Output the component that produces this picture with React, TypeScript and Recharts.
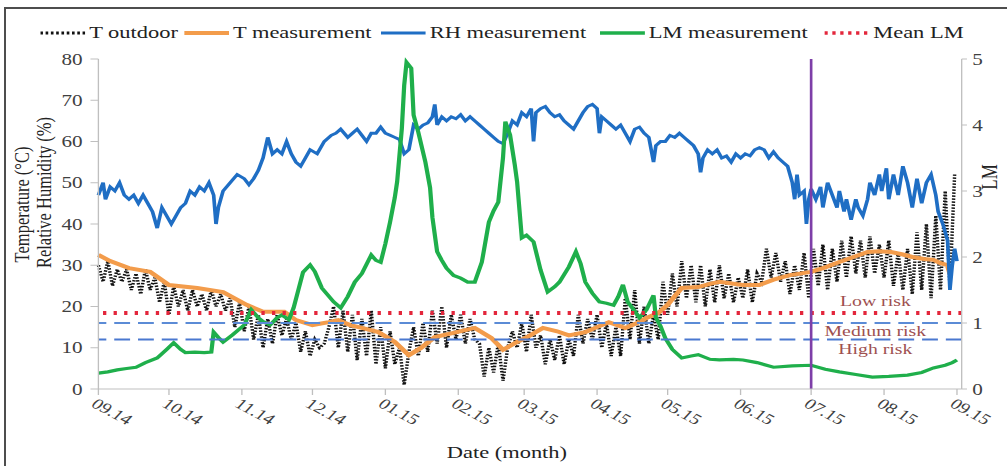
import { LineChart, Line, XAxis, YAxis, ReferenceLine } from 'recharts';

// x axis is days since 1 Sep 2014
const monthTicks = [0, 30, 61, 91, 122, 153, 181, 212, 242, 273, 303, 334, 365];
const monthLabels = ['09.14', '10.14', '11.14', '12.14', '01.15', '02.15', '03.15', '04.15', '05.15', '06.15', '07.15', '08.15', '09.15'];
const leftTicks = [0, 10, 20, 30, 40, 50, 60, 70, 80];
const rightTicks = [0, 1, 2, 3, 4, 5];

// outdoor temperature, one reading every 2 days (alternating day / night)
const tOutdoor = [
  30, 26, 31, 25, 29, 26, 29, 24, 28, 23,
  29, 24, 27, 21, 26, 18, 25, 20, 24, 19,
  24, 20, 23, 19, 24, 20, 23, 19, 22, 15,
  21, 14, 20, 12, 18, 10, 17, 11, 18, 13,
  17, 12, 16, 9, 14, 8, 12, 10, 11, 15,
  20, 10, 19, 9, 18, 7, 17, 8, 19, 6,
  15, 5, 14, 6, 10, 1, 9, 15, 8, 16,
  9, 19, 11, 20, 10, 18, 12, 18, 11, 17,
  12, 11, 3, 10, 4, 11, 2, 10, 14, 10,
  16, 9, 18, 10, 13, 6, 12, 7, 13, 6,
  12, 8, 18, 11, 17, 12, 18, 10, 16, 8,
  15, 8, 22, 12, 24, 11, 20, 11, 18, 12,
  26, 18, 28, 20, 31, 22, 30, 21, 30, 20,
  29, 21, 30, 22, 28, 21, 27, 22, 29, 21,
  28, 26, 34, 27, 33, 26, 31, 23, 30, 24,
  33, 22, 34, 25, 35, 24, 34, 26, 36, 27,
  37, 28, 36, 27, 37, 28, 35, 27, 36, 25,
  33, 24, 34, 23, 38, 24, 40, 22, 42, 24,
  48, 25, 52,
];

// [day, value]
const tMeasurement: [number, number][] = [
  [0, 32.5], [5, 31], [13, 29.3], [22, 28.4], [30, 25.2], [42, 24.5], [53, 23.5], [63, 20.4],
  [70, 18.7], [79, 18.7], [84, 16.7], [91, 15.5], [98, 16.2], [102, 16.7], [107, 15.5], [112, 14.8],
  [119, 13.8], [126, 11.4], [132, 8.2], [137, 9.9], [143, 12.6], [151, 13.6], [160, 14.8], [167, 12.4],
  [172, 9.5], [178, 11.4], [183, 12.8], [189, 14.8], [195, 14], [200, 13], [207, 13.8], [212, 15],
  [217, 16.2], [224, 14.8], [229, 16], [233, 17.2], [238, 18.4], [242, 20.4], [245, 22.5], [248, 24.5],
  [255, 24.7], [260, 25.5], [264, 26], [270, 25.5], [274, 25.2], [281, 25.2], [287, 26.5], [294, 27.6],
  [303, 28.4], [309, 29.5], [315, 30.8], [321, 32], [327, 33.2], [332, 33.4], [337, 33.2], [342, 32.6],
  [346, 32], [351, 31.5], [355, 31.3], [358, 30.5], [361, 30], [362, 28],
];

const rhMeasurement: [number, number][] = [
  [0, 47], [2, 50], [3, 46], [5, 49], [7, 48], [9, 50], [11, 47], [13, 46], [15, 47], [17, 45],
  [19, 47], [21, 45], [23, 43], [25, 39], [27, 44], [29, 42], [31, 40], [33, 42], [35, 44], [37, 45],
  [39, 48], [41, 47], [43, 49], [45, 48], [47, 50], [49, 47], [50, 40], [51, 44], [53, 48], [56, 50],
  [59, 52], [62, 51], [64, 49.5], [66, 51], [68, 53], [70, 56], [72, 61], [74, 57], [76, 58], [78, 57],
  [80, 60], [82, 57], [84, 55], [86, 54], [88, 56], [90, 58], [93, 57], [96, 60], [99, 61.5], [101, 62],
  [103, 63], [106, 61], [108, 62], [110, 63], [112, 61.5], [114, 60], [116, 62], [118, 62], [120, 63.5], [122, 62],
  [124, 61.5], [126, 61], [128, 60.5], [130, 57], [132, 58], [134, 64], [136, 63], [138, 64], [140, 64.5], [142, 66],
  [143, 69], [144, 64], [146, 66], [148, 65], [150, 66], [152, 65.5], [154, 66.5], [156, 65], [158, 66], [160, 65],
  [162, 64], [164, 63], [166, 62], [168, 61], [170, 60], [172, 59.5], [174, 62], [176, 65], [178, 64], [180, 67],
  [182, 66], [184, 68], [185, 60], [186, 67], [188, 68], [190, 68.5], [192, 67], [194, 66], [196, 66.5], [198, 65],
  [200, 64], [202, 63], [204, 65], [206, 67], [208, 68.5], [210, 69], [212, 68], [213, 62], [214, 66], [216, 65],
  [218, 64], [220, 63], [222, 64], [224, 62], [226, 60], [228, 63], [230, 63.5], [232, 62], [234, 61], [236, 55],
  [237, 59], [239, 60], [241, 60], [243, 61.5], [245, 61], [247, 62], [249, 61], [251, 60], [253, 59], [255, 57],
  [256, 52.5], [257, 56], [259, 58], [261, 57], [263, 58], [265, 56], [267, 56.5], [269, 55], [271, 57], [273, 56],
  [275, 57], [277, 56.5], [279, 58], [281, 58.5], [283, 58], [285, 56], [287, 57.5], [289, 56], [291, 55], [293, 54],
  [295, 50], [296, 46], [297, 52], [298, 47], [300, 48], [301, 40], [302, 46], [303, 48.5], [305, 46], [307, 49],
  [308, 44], [310, 50], [312, 47], [314, 44], [315, 48], [317, 43], [318, 46], [320, 41], [322, 46], [323, 44],
  [325, 42], [327, 46], [328, 50], [330, 47], [332, 52], [333, 48], [335, 53.5], [336, 46], [338, 52], [340, 47],
  [342, 54], [344, 50], [346, 44], [348, 51], [350, 45], [352, 50], [354, 52], [356, 47], [357, 43], [359, 40],
  [361, 36], [362, 24], [363, 30], [364, 34], [365, 31],
];

const lmMeasurement: [number, number][] = [
  [0, 0.24], [4, 0.26], [8, 0.29], [12, 0.31], [16, 0.33], [20, 0.4], [25, 0.47], [29, 0.6], [32, 0.7], [35, 0.6],
  [37, 0.55], [41, 0.56], [45, 0.55], [48, 0.56], [49, 0.86], [51, 0.78], [53, 0.71], [57, 0.82], [62, 0.97], [65, 1.2],
  [68, 1.08], [70, 1.02], [73, 0.97], [76, 1.08], [78, 1.12], [81, 1.05], [83, 1.23], [85, 1.5], [87, 1.77], [90, 1.88],
  [92, 1.78], [95, 1.53], [100, 1.32], [103, 1.23], [106, 1.4], [109, 1.62], [112, 1.75], [116, 2.03], [118, 1.95], [120, 1.92],
  [122, 2.2], [124, 2.53], [126, 2.9], [127, 3.14], [129, 3.95], [130, 4.6], [131, 4.95], [133, 4.86], [134, 4.15], [136, 3.89],
  [139, 3.44], [141, 3.05], [142, 2.6], [144, 2.08], [146, 1.95], [148, 1.83], [151, 1.72], [154, 1.68], [157, 1.62], [160, 1.62],
  [163, 1.92], [166, 2.53], [168, 2.7], [170, 2.83], [172, 3.5], [173, 4.05], [175, 3.85], [177, 3.4], [178, 3.14], [180, 2.29],
  [182, 2.33], [185, 2.23], [188, 1.8], [191, 1.47], [194, 1.55], [196, 1.62], [200, 1.85], [203, 2.08], [205, 1.9], [207, 1.62],
  [210, 1.45], [213, 1.32], [216, 1.3], [219, 1.27], [221, 1.4], [223, 1.58], [225, 1.32], [228, 1.18], [230, 1.08], [233, 1.2],
  [236, 1.42], [237, 1.08], [239, 0.95], [241, 0.77], [244, 0.6], [248, 0.47], [252, 0.5], [255, 0.52], [260, 0.45], [264, 0.44],
  [270, 0.45], [274, 0.44], [280, 0.4], [287, 0.33], [295, 0.35], [303, 0.36], [309, 0.3], [315, 0.26], [322, 0.22], [329, 0.18],
  [336, 0.19], [344, 0.21], [350, 0.25], [355, 0.32], [360, 0.36], [363, 0.4], [365, 0.44],
];

const meanLM = 1.15;
const mediumRisk = 1.0;
const highRisk = 0.75;
const markerDay = 303; // 01.07.2015

const tOutdoorData = tOutdoor.map((v, i) => ({ d: i * 2, v }));
const toRows = (pts: [number, number][]) => pts.map(([d, v]) => ({ d, v }));

const FONT = '"Liberation Serif", "Times New Roman", serif';
const SX = 1.32; // the source figure is stretched horizontally

const MonthTick = (props: any) => {
  const { x, y, payload } = props;
  const label = monthLabels[monthTicks.indexOf(payload.value)];
  return (
    <g transform={`translate(${x},${y})`}>
      <text x={0} y={0} dy={11} textAnchor="start" transform="rotate(35)" fill="#404040" fontSize={15} fontFamily={FONT}>
        {label}
      </text>
    </g>
  );
};

const RiskText = (props: any) => {
  const { viewBox, text, dy } = props;
  if (!viewBox) return null;
  return (
    <text x={viewBox.x + viewBox.width * 0.9} y={viewBox.y + dy} textAnchor="middle" fill="#9E5050" fontSize={15} fontFamily={FONT}>
      {text}
    </text>
  );
};

const LeftTitle = () => (
  <g fill="#222" fontSize={16.5} fontFamily={FONT}>
    <text x={17.5} y={195.5} textAnchor="middle" transform="rotate(-90 17.5 195.5)">Temperature (°C)</text>
    <text x={34} y={183.5} textAnchor="middle" transform="rotate(-90 34 183.5)">Relative Humidity (%)</text>
  </g>
);

const RightTitle = () => (
  <text x={751} y={168} textAnchor="middle" transform="rotate(-90 751 168)" fill="#222" fontSize={17} fontFamily={FONT}>
    LM
  </text>
);

const BottomTitle = () => (
  <text x={379.5} y={449} textAnchor="middle" fill="#222" fontSize={17} fontFamily={FONT}>
    Date (month)
  </text>
);

const legendItems = [
  { name: 'T outdoor', left: 26, color: '#111', width: 3, dash: '2 2' },
  { name: 'T measurement', left: 135, color: '#F39C4B', width: 4, dash: undefined },
  { name: 'RH measurement', left: 284, color: '#1F6EC4', width: 3, dash: undefined },
  { name: 'LM measurement', left: 450, color: '#1FAF4B', width: 3.5, dash: undefined },
  { name: 'Mean LM', left: 620, color: '#E3263B', width: 3.5, dash: '2.5 3.5' },
];

export default function App() {
  return (
    <div
      style={{
        position: 'absolute', left: 4, top: 7, width: 1003, height: 459, boxSizing: 'border-box',
        border: '2px solid #4d4d4d', borderRight: 'none', borderBottom: 'none', overflow: 'hidden', background: '#fff',
      }}
    >
      <div style={{ position: 'absolute', left: 0, top: 0, width: 758, height: 457, transform: `scaleX(${SX})`, transformOrigin: '0 0', fontFamily: FONT }}>
        {legendItems.map((it) => (
          <div key={it.name} style={{ position: 'absolute', left: it.left, top: 14, height: 20, display: 'flex', alignItems: 'center', whiteSpace: 'nowrap' }}>
            <svg width={34} height={10}>
              <line x1={0} y1={5} x2={34} y2={5} stroke={it.color} strokeWidth={it.width} strokeDasharray={it.dash} />
            </svg>
            <span style={{ marginLeft: 3, fontSize: 17, color: '#222', lineHeight: '20px' }}>{it.name}</span>
          </div>
        ))}
        <LineChart width={758} height={457} margin={{ top: 50, right: 0, bottom: 0, left: 0 }}>
          <XAxis
            type="number"
            dataKey="d"
            domain={[0, 367]}
            ticks={monthTicks}
            interval={0}
            height={77}
            tickSize={6}
            tick={<MonthTick />}
            axisLine={{ stroke: '#BFBFBF' }}
            tickLine={{ stroke: '#BFBFBF' }}
            label={<BottomTitle />}
          />
          <YAxis
            yAxisId="left"
            domain={[0, 80]}
            ticks={leftTicks}
            width={70}
            tickSize={6}
            tickMargin={6}
            tick={{ fill: '#404040', fontSize: 16, fontFamily: FONT }}
            axisLine={{ stroke: '#BFBFBF' }}
            tickLine={{ stroke: '#BFBFBF' }}
            label={<LeftTitle />}
          />
          <YAxis
            yAxisId="right"
            orientation="right"
            domain={[0, 5]}
            ticks={rightTicks}
            width={34}
            tickSize={4}
            tickMargin={4}
            tick={{ fill: '#404040', fontSize: 16, fontFamily: FONT }}
            axisLine={{ stroke: '#BFBFBF' }}
            tickLine={{ stroke: '#BFBFBF' }}
            label={<RightTitle />}
          />
          <Line yAxisId="left" data={tOutdoorData} dataKey="v" type="linear" stroke="#111" strokeWidth={2.6} strokeDasharray="1.5 1.5" dot={false} isAnimationActive={false} />
          <Line yAxisId="left" data={toRows(tMeasurement)} dataKey="v" type="linear" stroke="#F39C4B" strokeWidth={4} dot={false} isAnimationActive={false} />
          <Line yAxisId="left" data={toRows(rhMeasurement)} dataKey="v" type="linear" stroke="#1F6EC4" strokeWidth={2.8} dot={false} isAnimationActive={false} />
          <Line yAxisId="right" data={toRows(lmMeasurement)} dataKey="v" type="linear" stroke="#1FAF4B" strokeWidth={3.2} dot={false} isAnimationActive={false} />
          <ReferenceLine yAxisId="right" y={meanLM} stroke="#E3263B" strokeWidth={4} strokeDasharray="2.5 5.5" label={<RiskText text="Low risk" dy={-7} />} />
          <ReferenceLine yAxisId="right" y={mediumRisk} stroke="#5B8BD6" strokeWidth={2} strokeDasharray="12 6" label={<RiskText text="Medium risk" dy={13} />} />
          <ReferenceLine yAxisId="right" y={highRisk} stroke="#4A78D0" strokeWidth={2} strokeDasharray="12 6" label={<RiskText text="High risk" dy={15} />} />
          <ReferenceLine yAxisId="left" x={markerDay} stroke="#7E3FA8" strokeWidth={2} />
        </LineChart>
      </div>
    </div>
  );
}
